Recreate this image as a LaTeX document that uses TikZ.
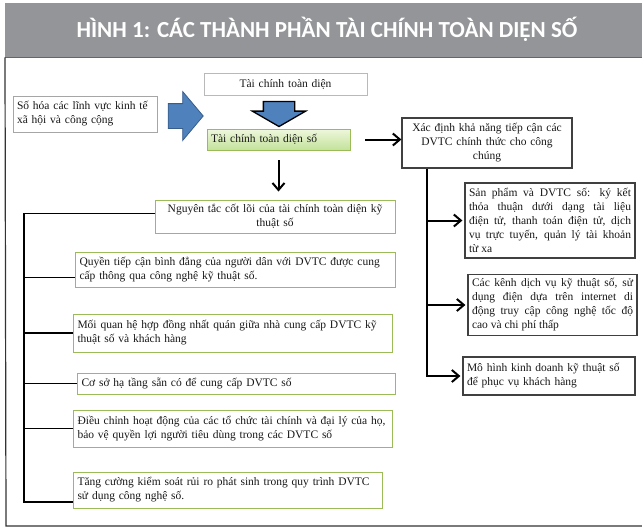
\documentclass[tikz,border=0pt]{standalone}
\usepackage{fontspec}
\setmainfont{Liberation Serif}
\newfontfamily\titlefont{Carlito}
\usetikzlibrary{shapes.arrows, arrows.meta}

\definecolor{bannergray}{HTML}{939598}
\definecolor{boxgreen}{HTML}{9BBB59}
\definecolor{greentop}{HTML}{EEF7DC}
\definecolor{greenbottom}{HTML}{C3E29A}
\definecolor{arrowblue}{HTML}{4F81BD}
\definecolor{arrowedge}{HTML}{385D8A}
\definecolor{framegray}{HTML}{333333}

\newcommand{\boxfont}{\fontsize{11.5}{14}\selectfont}

\tikzstyle{plainbox} = [rectangle, draw=gray!55, fill=white, inner sep=4pt]
\tikzstyle{greenbox} = [rectangle, draw=boxgreen, line width=1pt, fill=white, inner sep=4pt]
\tikzstyle{darkbox} = [rectangle, draw=black!75, line width=1.2pt, fill=white, inner sep=4pt]
\tikzstyle{blockarrow} = [single arrow, fill=arrowblue, inner sep=0pt]
\tikzstyle{arrow} = [line width=2pt, -{Straight Barb[length=7pt, width=12pt]}]
\tikzstyle{bus} = [line width=1.8pt]

\begin{document}
\begin{tikzpicture}[x=1pt, y=-1pt, font=\boxfont, text=black!90]
\useasboundingbox (0,0) rectangle (642,528);

% title banner and frame
\node (banner) [fill=bannergray, minimum width=637pt, minimum height=54pt, inner sep=0pt, anchor=north west] at (5,3) {};
\node (title) [text=white, font=\titlefont\bfseries\fontsize{23}{26}\selectfont] at (327,29) {HÌNH 1: CÁC THÀNH PHẦN TÀI CHÍNH TOÀN DIỆN SỐ};
\draw [black!60, line width=1pt] (banner.south west) -- (banner.south east);
\draw [framegray, line width=1.2pt] (banner.south west) -- (6,526) -- (650,526);

% top part
\node (tctd) [plainbox, text width=155pt, align=center, minimum height=22pt] at (285.5,84) {Tài chính toàn diện};
\node (soh) [plainbox, draw=gray!70, text width=136pt, align=left, minimum height=36pt] at (85,114) {Số hóa các lĩnh vực kinh tế\\ xã hội và công cộng};
\node (rarr) [blockarrow, draw=arrowedge, line width=0.8pt, minimum height=35pt, inner ysep=12pt, single arrow head extend=12pt, single arrow tip angle=100] at (180.5,116) {};
\node (darr) [blockarrow, draw=black, line width=1.3pt, rotate=-90, minimum height=25pt, inner ysep=15pt, single arrow head extend=11pt, single arrow tip angle=120] at (279,109.5) {};
\node (tcs) [rectangle, draw=boxgreen, line width=0.8pt, top color=greentop, bottom color=greenbottom, inner sep=4pt, text width=135pt, align=left, minimum height=21pt] at (278.5,139.5) {Tài chính toàn diện số};

% right branch
\node (xd) [darkbox, text width=162pt, align=center, minimum height=50pt] at (487,143) {Xác định khả năng tiếp cận các\\ DVTC chính thức cho công\\ chúng};
\node (r1) [darkbox, text width=162pt, align=justify, minimum height=75pt] at (550,220.5) {Sản phẩm và DVTC số: ký kết\linebreak thỏa thuận dưới dạng tài liệu\linebreak điện tử, thanh toán điện tử, dịch\linebreak vụ trực tuyến, quản lý tài khoản\linebreak từ xa};
\node (r2) [darkbox, text width=161pt, align=justify, minimum height=56pt] at (552.5,305) {Các kênh dịch vụ kỹ thuật số, sử\linebreak dụng điện dựa trên internet di\linebreak động truy cập công nghệ tốc độ\linebreak cao và chi phí thấp};
\node (r3) [darkbox, text width=164pt, align=left, minimum height=38pt] at (549,376) {Mô hình kinh doanh kỹ thuật số\\ để phục vụ khách hàng};

% left branch
\node (ng) [greenbox, text width=232pt, align=center, minimum height=33pt] at (275,216.5) {Nguyên tắc cốt lõi của tài chính toàn diện kỹ\\ thuật số};
\node (q1) [greenbox, anchor=west, text width=312pt, align=left, minimum height=35pt] at (75,269.5) {Quyền tiếp cận bình đẳng của người dân với DVTC được cung\\ cấp thông qua công nghệ kỹ thuật số.};
\node (q2) [greenbox, anchor=west, text width=311pt, align=left, minimum height=38pt] at (73,333) {Mối quan hệ hợp đồng nhất quán giữa nhà cung cấp DVTC kỹ\\ thuật số và khách hàng};
\node (q3) [greenbox, anchor=west, text width=310pt, align=left, minimum height=21pt] at (77,383.5) {Cơ sở hạ tầng sẵn có để cung cấp DVTC số};
\node (q4) [greenbox, anchor=west, text width=311pt, align=left, minimum height=37pt] at (73,428.5) {Điều chỉnh hoạt động của các tổ chức tài chính và đại lý của họ,\\ bảo vệ quyền lợi người tiêu dùng trong các DVTC số};
\node (q5) [greenbox, anchor=west, text width=301pt, align=left, minimum height=36pt] at (73,490) {Tăng cường kiểm soát rủi ro phát sinh trong quy trình DVTC\\ sử dụng công nghệ số.};

% connectors
\draw [arrow, shorten <=15pt] (tcs.east) -- (xd.west |- tcs.east);
\draw [arrow, shorten <=10pt, shorten >=8pt] (tcs.south) -- (tcs.south |- ng.north);

\coordinate (lx) at (24,0);
\coordinate (ltop) at ([yshift=3pt]ng.west);
\coordinate (l1) at ([yshift=-8pt]q1.west);
\coordinate (l5) at ([yshift=-12pt]q5.west);
\draw [bus] (ltop) -- (lx |- ltop) -- (lx |- l5) -- (l5);
\draw [bus] (lx |- l1) -- (l1);
\draw [bus] (lx |- q2.west) -- (q2.west);
\draw [bus] (lx |- q3.west) -- (q3.west);
\draw [bus] (lx |- q4.west) -- (q4.west);

\coordinate (rx) at ([xshift=26pt]xd.south west);
\draw [arrow, shorten >=2pt] (rx) |- (r3.west);
\draw [arrow, shorten >=2pt] (rx |- r1.west) -- (r1.west);
\draw [arrow, shorten >=2pt] (rx |- r2.west) -- (r2.west);

\end{tikzpicture}
\end{document}
